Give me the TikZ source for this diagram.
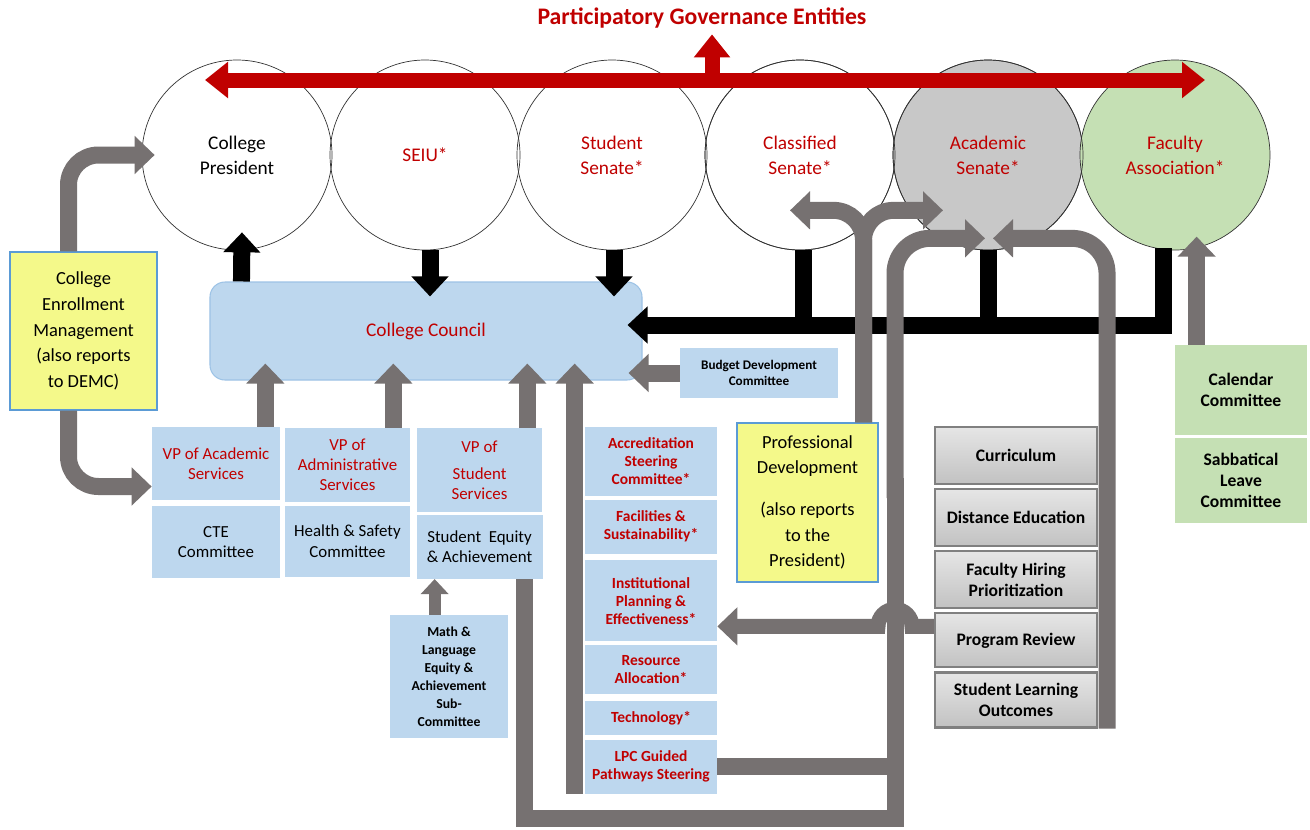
\documentclass[tikz,border=0pt]{standalone}
\usepackage{fontspec}
\setmainfont{Carlito}
\usepackage{tikz}
\usetikzlibrary{shapes, arrows.meta, calc, positioning}

\definecolor{govred}{HTML}{C00000}
\definecolor{paleblue}{HTML}{BDD7EE}
\definecolor{edgeblue}{HTML}{9DC3E6}
\definecolor{lineblue}{HTML}{5B9BD5}
\definecolor{paleyellow}{HTML}{F4F98A}
\definecolor{palegreen}{HTML}{C5E0B4}
\definecolor{arrowgray}{HTML}{767171}
\definecolor{boxgray}{HTML}{C8C8C8}

\begin{document}
\begin{tikzpicture}[x=0.2mm, y=-0.2mm, node distance=0.6mm]
	\tikzstyle{entity} = [draw=black!80, line width=0.4pt, circle, minimum size=38mm, inner sep=0pt, align=center, text=govred, font=\fontsize{11}{14.2}\selectfont]
	\tikzstyle{council} = [draw=edgeblue, line width=0.6pt, fill=paleblue, rounded corners=3mm, minimum width=86.4mm, minimum height=19.6mm, text=govred, font=\fontsize{11}{14}\selectfont]
	\tikzstyle{bluebox} = [fill=paleblue, align=center, inner sep=0pt, font=\fontsize{9.6}{11.4}\selectfont]
	\tikzstyle{vpbox} = [bluebox, text=govred, minimum width=25mm]
	\tikzstyle{redbox} = [fill=paleblue, align=center, inner sep=0pt, text=govred, minimum width=26.4mm, font=\fontsize{8.8}{10.2}\selectfont\bfseries]
	\tikzstyle{notebox} = [draw=lineblue, line width=0.6pt, fill=paleyellow, align=center, inner sep=0pt, font=\fontsize{10.5}{14.6}\selectfont]
	\tikzstyle{senatebox} = [draw=black!50, line width=1.2pt, top color=black!10, bottom color=black!24, align=center, inner sep=0pt, minimum width=32.4mm, font=\fontsize{10}{12}\selectfont\bfseries]
	\tikzstyle{greenbox} = [fill=palegreen, align=center, inner sep=0pt, minimum width=26.4mm, font=\fontsize{10}{12}\selectfont\bfseries]
	\tikzstyle{redarrow} = [draw=govred, line width=3mm, >={Triangle[length=4.6mm, width=7mm]}]
	\tikzstyle{blackline} = [draw=black, line width=3.4mm]
	\tikzstyle{blackarrow} = [blackline, ->, >={Triangle[length=4mm, width=7.2mm]}]
	\tikzstyle{grayline} = [draw=arrowgray, line width=3.4mm]
	\tikzstyle{grayarrow} = [grayline, ->, >={Triangle[length=4mm, width=7.4mm]}]

	\path[use as bounding box, fill=white] (0,0) rectangle (1310,829);

	\node[text=govred, font=\fontsize{13.5}{16}\selectfont\bfseries] (title) at (702,18) {Participatory Governance Entities};
	\node[entity, text=black] (pres) at (237,155) {College\\President};
	\node[entity] (seiu) at (425,155) {SEIU*};
	\node[entity] (stud) at (612,155) {Student\\Senate*};
	\node[entity] (class) at (800,155) {Classified\\Senate*};
	\node[entity, fill=boxgray] (acad) at (988,155) {Academic\\Senate*};
	\node[entity, fill=palegreen] (fac) at (1175,155) {Faculty\\Association*};
	\foreach \c in {class,acad}
		\draw[black!80, line width=0.4pt] (\c.center) circle[radius=19mm];

	\coordinate (redL) at (205,80);
	\coordinate (redR) at (1205,80);
	\coordinate (redM) at (712,80);
	\draw[redarrow, <->] (redL) -- (redR);
	\draw[redarrow, ->] (redM) -- (title.south -| redM);

	\node[council] (cc) at (426,331) {College Council};
	\node[notebox, minimum width=29.4mm, minimum height=31.6mm] (cem) at (83.5,331) {College\\Enrollment\\Management\\(also reports\\to DEMC)};
	\node[bluebox, minimum width=31.6mm, minimum height=10mm, font=\fontsize{7.5}{9}\selectfont\bfseries] (bud) at (759,373) {Budget Development\\Committee};

	\node[vpbox, minimum width=25.6mm, minimum height=14.6mm] (vpa) at (216,463.5) {VP of Academic\\Services};
	\node[bluebox, below=1mm of vpa, minimum width=25.6mm, minimum height=14.4mm] (cte) {CTE\\Committee};
	\node[vpbox, minimum height=14.8mm] (vpd) at (347.5,465) {VP of\\Administrative\\Services};
	\node[bluebox, below=0.6mm of vpd, minimum width=25mm, minimum height=14.2mm] (hsc) {Health \& Safety\\Committee};
	\node[vpbox, minimum height=16.8mm] (vps) at (479.5,470) {VP of\\[1.4mm]Student\\Services};
	\node[bluebox, below=0.4mm of vps, minimum width=25.2mm, minimum height=12.8mm] (sea) {Student~ Equity\\\& Achievement};
	\node[bluebox, minimum width=23.6mm, minimum height=24.6mm, font=\fontsize{7.8}{10.2}\selectfont\bfseries] (mth) at (449,676.5) {Math \&\\Language\\Equity \&\\Achievement\\Sub-\\Committee};

	\node[redbox, minimum height=13.8mm] (acc) at (651,461.5) {Accreditation\\Steering\\Committee*};
	\node[redbox, below=0.6mm of acc, minimum height=10.8mm] (fas) {Facilities \&\\Sustainability*};
	\node[redbox, below=1.2mm of fas, minimum height=16.2mm] (ipe) {Institutional\\Planning \&\\Effectiveness*};
	\node[redbox, below=0.6mm of ipe, minimum height=9.8mm] (res) {Resource\\Allocation*};
	\node[redbox, below=1.2mm of res, minimum height=6.8mm] (tec) {Technology*};
	\node[redbox, below=0.8mm of tec, minimum height=10.8mm] (lpc) {LPC Guided\\Pathways Steering};

	\node[notebox, minimum width=28.2mm, minimum height=31.8mm] (pd) at (807.5,502.5) {Professional\\Development\\[3.2mm](also reports\\to the\\President)};

	\node[senatebox, minimum height=11.4mm] (cur) at (1016,455.5) {Curriculum};
	\node[senatebox, below=0.6mm of cur, minimum height=11.4mm] (dse) {Distance Education};
	\node[senatebox, below=0.6mm of dse, minimum height=11.4mm] (fhp) {Faculty Hiring\\Prioritization};
	\node[senatebox, below=0.6mm of fhp, minimum height=10.8mm] (prv) {Program Review};
	\node[senatebox, below=0.6mm of prv, minimum height=11mm] (slo) {Student Learning\\Outcomes};

	\node[greenbox, minimum height=18mm] (cal) at (1241,390) {Calendar\\Committee};
	\node[greenbox, below=0.4mm of cal, minimum height=17mm] (sab) {Sabbatical\\Leave\\Committee};

	\draw[blackarrow] ($(cc.north west)+(32,0)$) -- ($(pres.south)+(5,-18)$);
	\draw[blackarrow] ($(seiu.south)+(5,0)$) -- ($(seiu.south |- cc.north)+(5,15)$);
	\draw[blackarrow] ($(stud.south)+(2,0)$) -- ($(stud.south |- cc.north)+(2,15)$);
	\draw[blackline] ($(class.south)+(3,0)$) -- ($(class.south)+(3,75)$);
	\draw[blackline] (acad.south) -- ($(acad.south)+(0,75)$);
	\draw[blackarrow] ($(fac.south)+(-12,-2)$) |- ($(cc.east)+(-15,-6)$);

	\coordinate (ccin) at ($(cc.south)+(0,-17)$);
	\coordinate (loopR) at (895,818);
	\coordinate (pdL) at ($(class.south)+(-10,-40)$);
	\coordinate (pdR) at ($(acad.south)+(-45,-40)$);

	\draw[grayarrow] ($(vpa.north east)+(-15,0)$) -- ($(vpa.north east |- ccin)+(-15,0)$);
	\draw[grayarrow] ($(vpd.north east)+(-17,0)$) -- ($(vpd.north east |- ccin)+(-17,0)$);
	\draw[grayarrow] ($(vps.north east)+(-15,0)$) -- ($(vps.north east |- ccin)+(-15,0)$);
	\draw[grayarrow] ($(lpc.south west)+(-10,0)$) -- ($(lpc.south west |- ccin)+(-10,0)$);
	\draw[grayarrow] (bud.west) -- ($(cc.east |- bud.west)+(-14,0)$);
	\draw[grayarrow, rounded corners=6mm] ($(cem.north)+(-15,0)$) |- ($(pres.west)+(13,0)$);
	\draw[grayarrow, rounded corners=6mm] ($(cem.south)+(-15,0)$) |- ($(vpa.west)+(0,23)$);
	\draw[grayarrow, line width=2.4mm, >={Triangle[length=3mm, width=5.4mm]}] ($(mth.north west)+(45,0)$) -- ($(mth.north west |- sea.south)+(45,0)$);

	\draw[grayarrow, rounded corners=6mm] ($(pd.north east)+(-15,0)$) |- (pdL);
	\draw[grayarrow, rounded corners=6mm] ($(pd.north east)+(-15,0)$) |- (pdR);

	\draw[grayline] ($(sea.south east)+(-18,0)$) |- (loopR) -- ($(loopR)+(0,-340)$);
	\draw[grayline] (lpc.east) -- (lpc.east -| loopR);
	\draw[grayarrow, rounded corners=7mm] ($(loopR)+(0,-320)$) |- ($(acad.south)+(-3,-12)$);
	\draw[grayarrow, rounded corners=7mm] ($(slo.south east)+(9,0)$) |- ($(acad.south)+(5,-12)$);
	\draw[grayarrow, line width=3mm] ($(prv.west)+(0,-14)$) -- ($(loopR |- prv.west)+(17,-14)$) arc[start angle=0, end angle=180, radius=3.4mm] -- ($(ipe.east |- prv.west)+(0,-14)$);
	\draw[grayarrow] ($(cal.north west)+(22,0)$) -- ($(cal.north west)+(22,-108)$);
\end{tikzpicture}
\end{document}
